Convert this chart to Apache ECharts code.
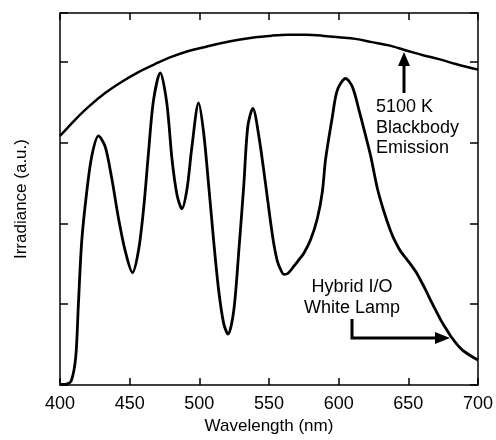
<!DOCTYPE html>
<html>
<head>
<meta charset="UTF-8">
<title>Irradiance</title>
<script src="https://cdn.jsdelivr.net/npm/echarts@6/dist/echarts.min.js"></script>
<style>
body{margin:0;background:#fff;}
#chart{width:496px;height:440px;}
</style>
</head>
<body>
<div id="chart"></div>
<script type="text/javascript">
// x ticks
var xTicks=[400,450,500,550,600,650,700];
// 5100 K blackbody [nm, a.u.]
var blackbody=[[400,3.08],[410.8,3.28],[420.4,3.44],[432.4,3.61],[444.4,3.75],[456.3,3.87],
	[468.3,3.97],[480.4,4.06],[492.3,4.13],[504.3,4.18],[516.3,4.23],[528.3,4.27],[540.3,4.30],
	[552,4.32],[564,4.33],[576,4.33],[588,4.32],[600,4.30],[612,4.28],[624,4.24],[636,4.20],
	[648,4.14],[660,4.08],[672,4.03],[684,3.97],[700,3.90]];
// hybrid I/O white lamp
var lamp=[[400,0.01],[404,0.01],[408,0.05],[411.3,0.35],[413.2,1.0],[415.6,1.78],[419.2,2.39],
	[422.8,2.83],[427.6,3.08],[432.4,2.95],[437.2,2.55],[442,2.06],[446.8,1.66],[452,1.39],
	[456.3,1.66],[460,2.18],[463.5,2.87],[467.1,3.52],[472,3.86],[476.7,3.48],[480.4,2.79],
	[484,2.35],[487.5,2.18],[491.2,2.43],[494.7,2.95],[499.5,3.49],[503.1,3.12],[506.7,2.47],
	[510.3,1.78],[513.9,1.17],[517.5,0.76],[520.6,0.63],[524.7,0.92],[528.3,1.65],[531.9,2.47],
	[534.8,3.20],[538.4,3.42],[542.7,3.08],[547.5,2.49],[551.1,2.02],[553.5,1.74],[555.9,1.54],
	[558.3,1.43],[560.7,1.37],[563.5,1.38],[567.9,1.47],[571.5,1.55],[575,1.63],[579.9,1.80],
	[584.7,2.06],[588.3,2.39],[590.6,2.79],[595.5,3.32],[599.1,3.65],[605,3.79],[609.8,3.69],
	[614.6,3.40],[619.4,3.08],[623,2.83],[627.8,2.43],[632.6,2.14],[637.4,1.90],[641,1.76],
	[644.6,1.65],[648.2,1.57],[651.8,1.49],[655.4,1.40],[659,1.29],[662.6,1.17],[666.2,1.04],
	[669.8,0.92],[673.4,0.80],[677,0.70],[680.6,0.60],[684.2,0.52],[687.8,0.45],[691.4,0.40],
	[695,0.36],[700,0.31]];

var font='Liberation Sans';
var mychart=echarts.init(document.getElementById('chart'));

function xAx(pos,show){
	return {
		type:'value',position:pos,min:xTicks[0],max:xTicks[xTicks.length-1],interval:50,
		axisLine:{show:true,onZero:false,lineStyle:{color:'#000',width:1.5}},
		axisTick:{show:true,inside:true,length:7,lineStyle:{color:'#000',width:1.5}},
		axisLabel:{show:show,color:'#000',fontSize:18,fontFamily:font,margin:10},
		splitLine:{show:false},
		name:show?'Wavelength (nm)':'',nameLocation:'middle',nameGap:31,
		nameTextStyle:{color:'#000',fontSize:17,fontFamily:font}
	};
}
function yAx(pos,show){
	return {
		type:'value',position:pos,min:0,max:4.6,interval:1,
		axisLine:{show:true,onZero:false,lineStyle:{color:'#000',width:1.5}},
		axisTick:{show:true,inside:true,length:8,lineStyle:{color:'#000',width:1.5}},
		axisLabel:{show:false},
		splitLine:{show:false},
		name:show?'Irradiance (a.u.)':'',nameLocation:'middle',nameGap:30,
		nameTextStyle:{color:'#000',fontSize:17,fontFamily:font}
	};
}

var option={
	animation:false,
	backgroundColor:'#fff',
	grid:{left:60,right:18,top:13,bottom:51},
	xAxis:[xAx('bottom',true),xAx('top',false)],
	yAxis:[yAx('left',true),yAx('right',false)],
	series:[{
		name:'5100 K Blackbody Emission',type:'line',smooth:0.35,showSymbol:false,
		lineStyle:{color:'#000',width:2.5},data:blackbody
	},{
		name:'Hybrid I/O White Lamp',type:'line',smooth:0.3,showSymbol:false,
		lineStyle:{color:'#000',width:2.8},data:lamp
	}],
	graphic:[
		{type:'text',left:376,top:97,style:{text:'5100 K\nBlackbody\nEmission',fill:'#000',
			font:'18px "Liberation Sans"',lineHeight:20.5}},
		{type:'line',shape:{x1:404,y1:93,x2:404,y2:63},style:{stroke:'#000',lineWidth:3}},
		{type:'polygon',shape:{points:[[398,66],[410,66],[404,52]]},style:{fill:'#000'}},
		{type:'text',x:352,y:276,style:{text:'Hybrid I/O\nWhite Lamp',fill:'#000',align:'center',
			font:'18px "Liberation Sans"',lineHeight:21.6}},
		{type:'polyline',shape:{points:[[352,319],[352,338],[437,338]]},style:{stroke:'#000',lineWidth:3,fill:null}},
		{type:'polygon',shape:{points:[[435,332],[435,344],[450,338]]},style:{fill:'#000'}}
	]
};
mychart.setOption(option);
</script>
</body>
</html>
